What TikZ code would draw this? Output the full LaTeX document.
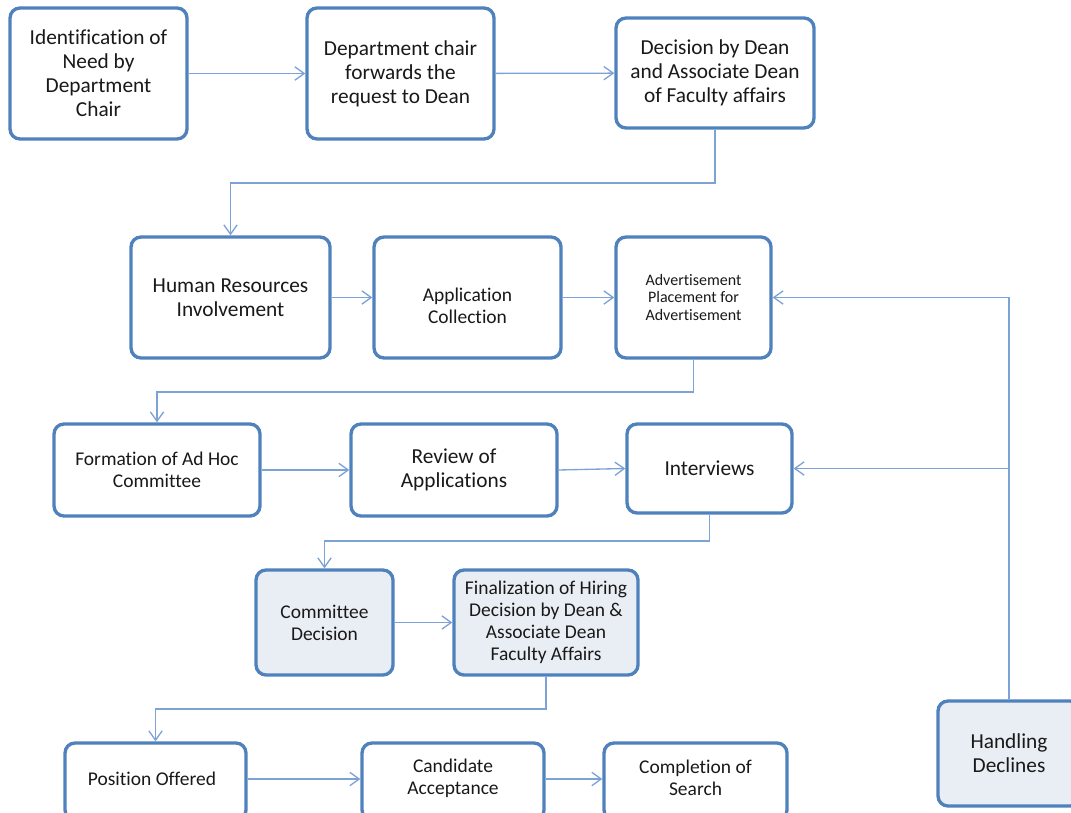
\documentclass[tikz,border=0pt]{standalone}
\usepackage{fontspec}
\setmainfont{Carlito}[Ligatures=NoCommon]
\usetikzlibrary{arrows.meta}
\definecolor{boxblue}{HTML}{4F81BD}
\definecolor{linkblue}{HTML}{7DA3D6}
\definecolor{boxgray}{HTML}{E9EEF4}
\tikzset{
  box/.style={draw=boxblue, line width=2.5pt, rounded corners=7.5pt, fill=white,
    align=center, inner sep=2pt, text=black!90},
  graybox/.style={box, fill=boxgray},
  lbl/.style={align=center, text=black!90},
  big/.style={font=\fontsize{16}{18}\selectfont},
  mid/.style={font=\fontsize{14.6}{16.6}\selectfont},
  small/.style={font=\fontsize{12}{13.3}\selectfont},
  link/.style={draw=linkblue, line width=1pt, -{Straight Barb[length=7pt,width=10pt]}}
}
\begin{document}
\begin{tikzpicture}[x=0.75pt,y=-0.75pt]
\useasboundingbox (0,0) rectangle (1071,813);
% row 1
\node[box,big,minimum width=132.75pt,minimum height=98.25pt] (ident) at (98.5,73.5) {Identification of\\Need by\\Department\\Chair};
\node[box,big,minimum width=140.25pt,minimum height=98.25pt] (fwd) at (400.5,73.5) {Department chair\\forwards the\\request to Dean};
\node[box,big,minimum width=148.5pt,minimum height=82.5pt] (dec) at (715,73) {Decision by Dean\\and Associate Dean\\of Faculty affairs};
% row 2
\node[box,big,minimum width=149.25pt,minimum height=90.75pt] (hr) at (230.5,297.5) {Human Resources\\Involvement};
\node[box,minimum width=140.25pt,minimum height=90.75pt] (app) at (467.5,297.5) {};
\node[lbl,mid] (appt) at (467.5,305.5) {Application\\Collection};
\node[box,small,minimum width=116.25pt,minimum height=90.75pt] (adv) at (693.5,297.5) {Advertisement\\Placement for\\Advertisement};
% row 3
\node[box,mid,minimum width=154.5pt,minimum height=69pt] (adhoc) at (157,470) {Formation of Ad Hoc\\Committee};
\node[box,big,minimum width=154.5pt,minimum height=69pt] (rev) at (454,470) {Review of\\Applications};
\node[box,big,minimum width=123.75pt,minimum height=66.75pt] (int) at (709.5,468.5) {Interviews};
% row 4
\node[graybox,mid,minimum width=102.75pt,minimum height=78.75pt] (comm) at (324.5,622.5) {Committee\\Decision};
\node[graybox,mid,minimum width=138pt,minimum height=78.75pt] (fin) at (546,622.5) {Finalization of Hiring\\Decision by Dean \&\\Associate Dean\\Faculty Affairs};
% row 5
\node[box,minimum width=135.75pt,minimum height=57.75pt] (pos) at (155.5,781.5) {};
\node[lbl,mid] (post) at (152,779) {Position Offered};
\node[box,minimum width=136.5pt,minimum height=57.75pt] (cand) at (453,781.5) {};
\node[lbl,mid] (candt) at (453,778) {Candidate\\Acceptance};
\node[box,minimum width=137.25pt,minimum height=57.75pt] (comp) at (695.5,781.5) {};
\node[lbl,mid] (compt) at (695.5,778) {Completion of\\Search};
\node[graybox,big,minimum width=106.5pt,minimum height=78.75pt] (hd) at (1009,753.5) {Handling\\Declines};
% helper levels
\coordinate (l1) at (0,183);
\coordinate (l2) at (0,392);
\coordinate (l3) at (0,541);
\coordinate (l4) at (0,709);
\coordinate (l5) at (0,779);
% connectors
\draw[link] (ident) -- (fwd);
\draw[link] (fwd) -- (dec);
\draw[link] (dec.south) -- (dec.south |- l1) -| (hr.north);
\draw[link] (hr) -- (app);
\draw[link] (app) -- (adv);
\draw[link] (adv.south) -- (adv.south |- l2) -| (adhoc.north);
\draw[link] (adhoc) -- (rev);
\draw[link] (rev.east) -- (int.west);
\draw[link] (int.south) -- (int.south |- l3) -| (comm.north);
\draw[link] (comm) -- (fin);
\draw[link] (fin.south) -- (fin.south |- l4) -| (pos.north);
\draw[link] (pos.east |- l5) -- (cand.west |- l5);
\draw[link] (cand.east |- l5) -- (comp.west |- l5);
\draw[link] (hd.north) |- (adv.east);
\draw[link] (hd.north |- int.east) -- (int.east);
\end{tikzpicture}
\end{document}
